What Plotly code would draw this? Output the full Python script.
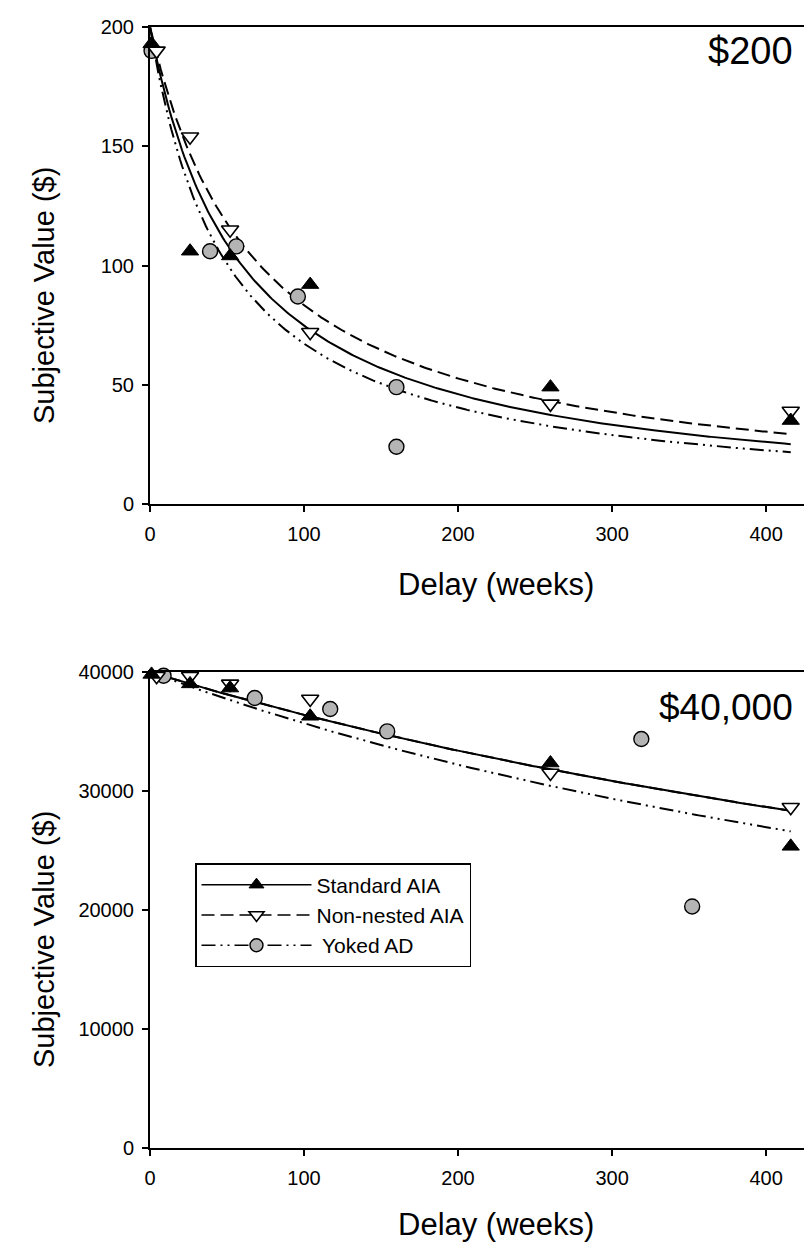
import numpy as np
import plotly.graph_objects as go

# ---------------- data ----------------
# $200 panel
std_x_200 = [1, 26, 52, 104, 260, 416]
std_y_200 = [193, 106, 104, 92, 49, 35]
nn_x_200 = [4.3, 26, 52, 104, 260, 416]
nn_y_200 = [190, 154, 115, 72, 42, 39]
yk_x_200 = [1, 39, 56, 96, 160, 160]
yk_y_200 = [190, 106, 108, 87, 49, 24]

# $40,000 panel
std_x_40k = [1, 26, 52, 104, 260, 416]
std_y_40k = [39800, 39000, 38650, 36280, 32350, 25350]
nn_x_40k = [4.3, 26, 52, 104, 260, 416]
nn_y_40k = [39640, 39640, 39000, 37730, 31510, 28630]
yk_x_40k = [8.8, 68, 117, 154, 319, 352]
yk_y_40k = [39690, 37810, 36890, 35010, 34370, 20300]

# hyperbolic fits V = A / (1 + k D), parameters
amount_200 = 200
k_std_200, k_nn_200, k_yk_200 = 0.01675, 0.0140, 0.01975
amount_40k = 40000
k_std_40k, k_nn_40k, k_yk_40k = 0.00099, 0.00099, 0.00121
fit_max_delay = 416

series_names = ["Standard AIA", "Non-nested AIA", " Yoked AD"]
x_ticks = [0, 100, 200, 300, 400]
y_ticks_200 = [0, 50, 100, 150, 200]
y_ticks_40k = [0, 10000, 20000, 30000, 40000]

# ---------------- styles ----------------
FONT = "Liberation Sans, Arial, sans-serif"
TICKFONT = dict(family=FONT, size=20, color="black")
STD_MARK = dict(symbol="triangle-up", size=15, color="black", line=dict(color="black", width=1))
NN_MARK = dict(symbol="triangle-down", size=15, color="white", line=dict(color="black", width=1.6))
YK_MARK = dict(symbol="circle", size=15, color="#b4b4b4", line=dict(color="black", width=1.4))
STD_LINE = dict(color="black", width=2, dash="solid")
NN_LINE = dict(color="black", width=2, dash="13px,6px")
YK_LINE = dict(color="black", width=2, dash="14px,5px,2px,5px,2px,5px")

fig = go.Figure()

fit_d = np.linspace(0, fit_max_delay, 300)


def add_panel(xa, ya, A, ks, pts):
    k_std, k_nn, k_yk = ks
    for k, ln in ((k_nn, NN_LINE), (k_yk, YK_LINE), (k_std, STD_LINE)):
        fig.add_trace(go.Scatter(x=fit_d, y=A / (1 + k * fit_d), mode="lines", line=ln,
                                 xaxis=xa, yaxis=ya, showlegend=False, hoverinfo="skip"))
    (sx, sy), (nx, ny), (yx, yy) = pts
    for x, y, mk in ((yx, yy, YK_MARK), (nx, ny, NN_MARK), (sx, sy, STD_MARK)):
        fig.add_trace(go.Scatter(x=x, y=y, mode="markers", marker=mk, cliponaxis=False,
                                 xaxis=xa, yaxis=ya, showlegend=False))


add_panel("x", "y", amount_200, (k_std_200, k_nn_200, k_yk_200),
          ((std_x_200, std_y_200), (nn_x_200, nn_y_200), (yk_x_200, yk_y_200)))
add_panel("x2", "y2", amount_40k, (k_std_40k, k_nn_40k, k_yk_40k),
          ((std_x_40k, std_y_40k), (nn_x_40k, nn_y_40k), (yk_x_40k, yk_y_40k)))

# legend entries
for name, mk, ln in zip(series_names, (STD_MARK, NN_MARK, YK_MARK), (STD_LINE, NN_LINE, YK_LINE)):
    fig.add_trace(go.Scatter(x=[None], y=[None], mode="lines+markers", name=name,
                             marker=dict(mk, size=13), line=dict(ln, width=1.5), xaxis="x2", yaxis="y2"))

W, H = 812, 1243
ML, MR, MT, MB = 142, 0, 19, 103
PW, PH = W - ML - MR, H - MT - MB


def px(xp):
    return (xp - ML) / PW


def py(yp):
    return (H - MB - yp) / PH


xcommon = dict(range=[0, 435], tickvals=x_ticks, ticks="outside", ticklen=6, tickwidth=2,
               tickcolor="black", showline=True, linewidth=2, linecolor="black", mirror=True,
               showgrid=False, zeroline=False, tickfont=TICKFONT, ticklabelstandoff=5)
ycommon = dict(ticks="outside", ticklen=6, tickwidth=2, tickcolor="black", showline=True,
               linewidth=2, linecolor="black", showgrid=False, zeroline=False,
               tickfont=TICKFONT, ticklabelstandoff=4, tickformat="d")

top_dom = [py(496), 1]
bot_dom = [0, py(664)]

fig.update_layout(
    width=W, height=H,
    margin=dict(l=ML, r=MR, t=MT, b=MB),
    paper_bgcolor="white", plot_bgcolor="white",
    font=dict(family=FONT, color="black"),
    xaxis=dict(xcommon, anchor="y", domain=[0, 1]),
    yaxis=dict(ycommon, anchor="x", domain=top_dom, range=[0, 200], tickvals=y_ticks_200),
    xaxis2=dict(xcommon, anchor="y2", domain=[0, 1]),
    yaxis2=dict(ycommon, anchor="x2", domain=bot_dom, range=[0, 40000], tickvals=y_ticks_40k),
    legend=dict(x=px(187), y=py(855), xanchor="left", yanchor="top",
                bordercolor="black", borderwidth=1.5, bgcolor="white",
                font=dict(family=FONT, size=21, color="black"),
                itemwidth=110, tracegroupgap=0),
    showlegend=True,
)

ann = []
for yc in (288, 288 + 644):
    ann.append(dict(text="Subjective Value ($)", textangle=-90, x=px(36), y=py(yc), xref="paper", yref="paper",
                    showarrow=False, font=dict(family=FONT, size=29, color="black"),
                    xanchor="center", yanchor="middle"))
for yc in (576, 576 + 640):
    ann.append(dict(text="Delay (weeks)", x=px(488), y=py(yc), xref="paper", yref="paper",
                    showarrow=False, font=dict(family=FONT, size=31, color="black"),
                    xanchor="center", yanchor="middle"))
ann.append(dict(text="$200", x=px(787), y=py(43), xref="paper", yref="paper", showarrow=False,
                font=dict(family=FONT, size=38, color="black"), xanchor="right", yanchor="middle"))
ann.append(dict(text="$40,000", x=px(787), y=py(700), xref="paper", yref="paper", showarrow=False,
                font=dict(family=FONT, size=37, color="black"), xanchor="right", yanchor="middle"))
fig.update_layout(annotations=ann)

fig.write_html("out.html")
